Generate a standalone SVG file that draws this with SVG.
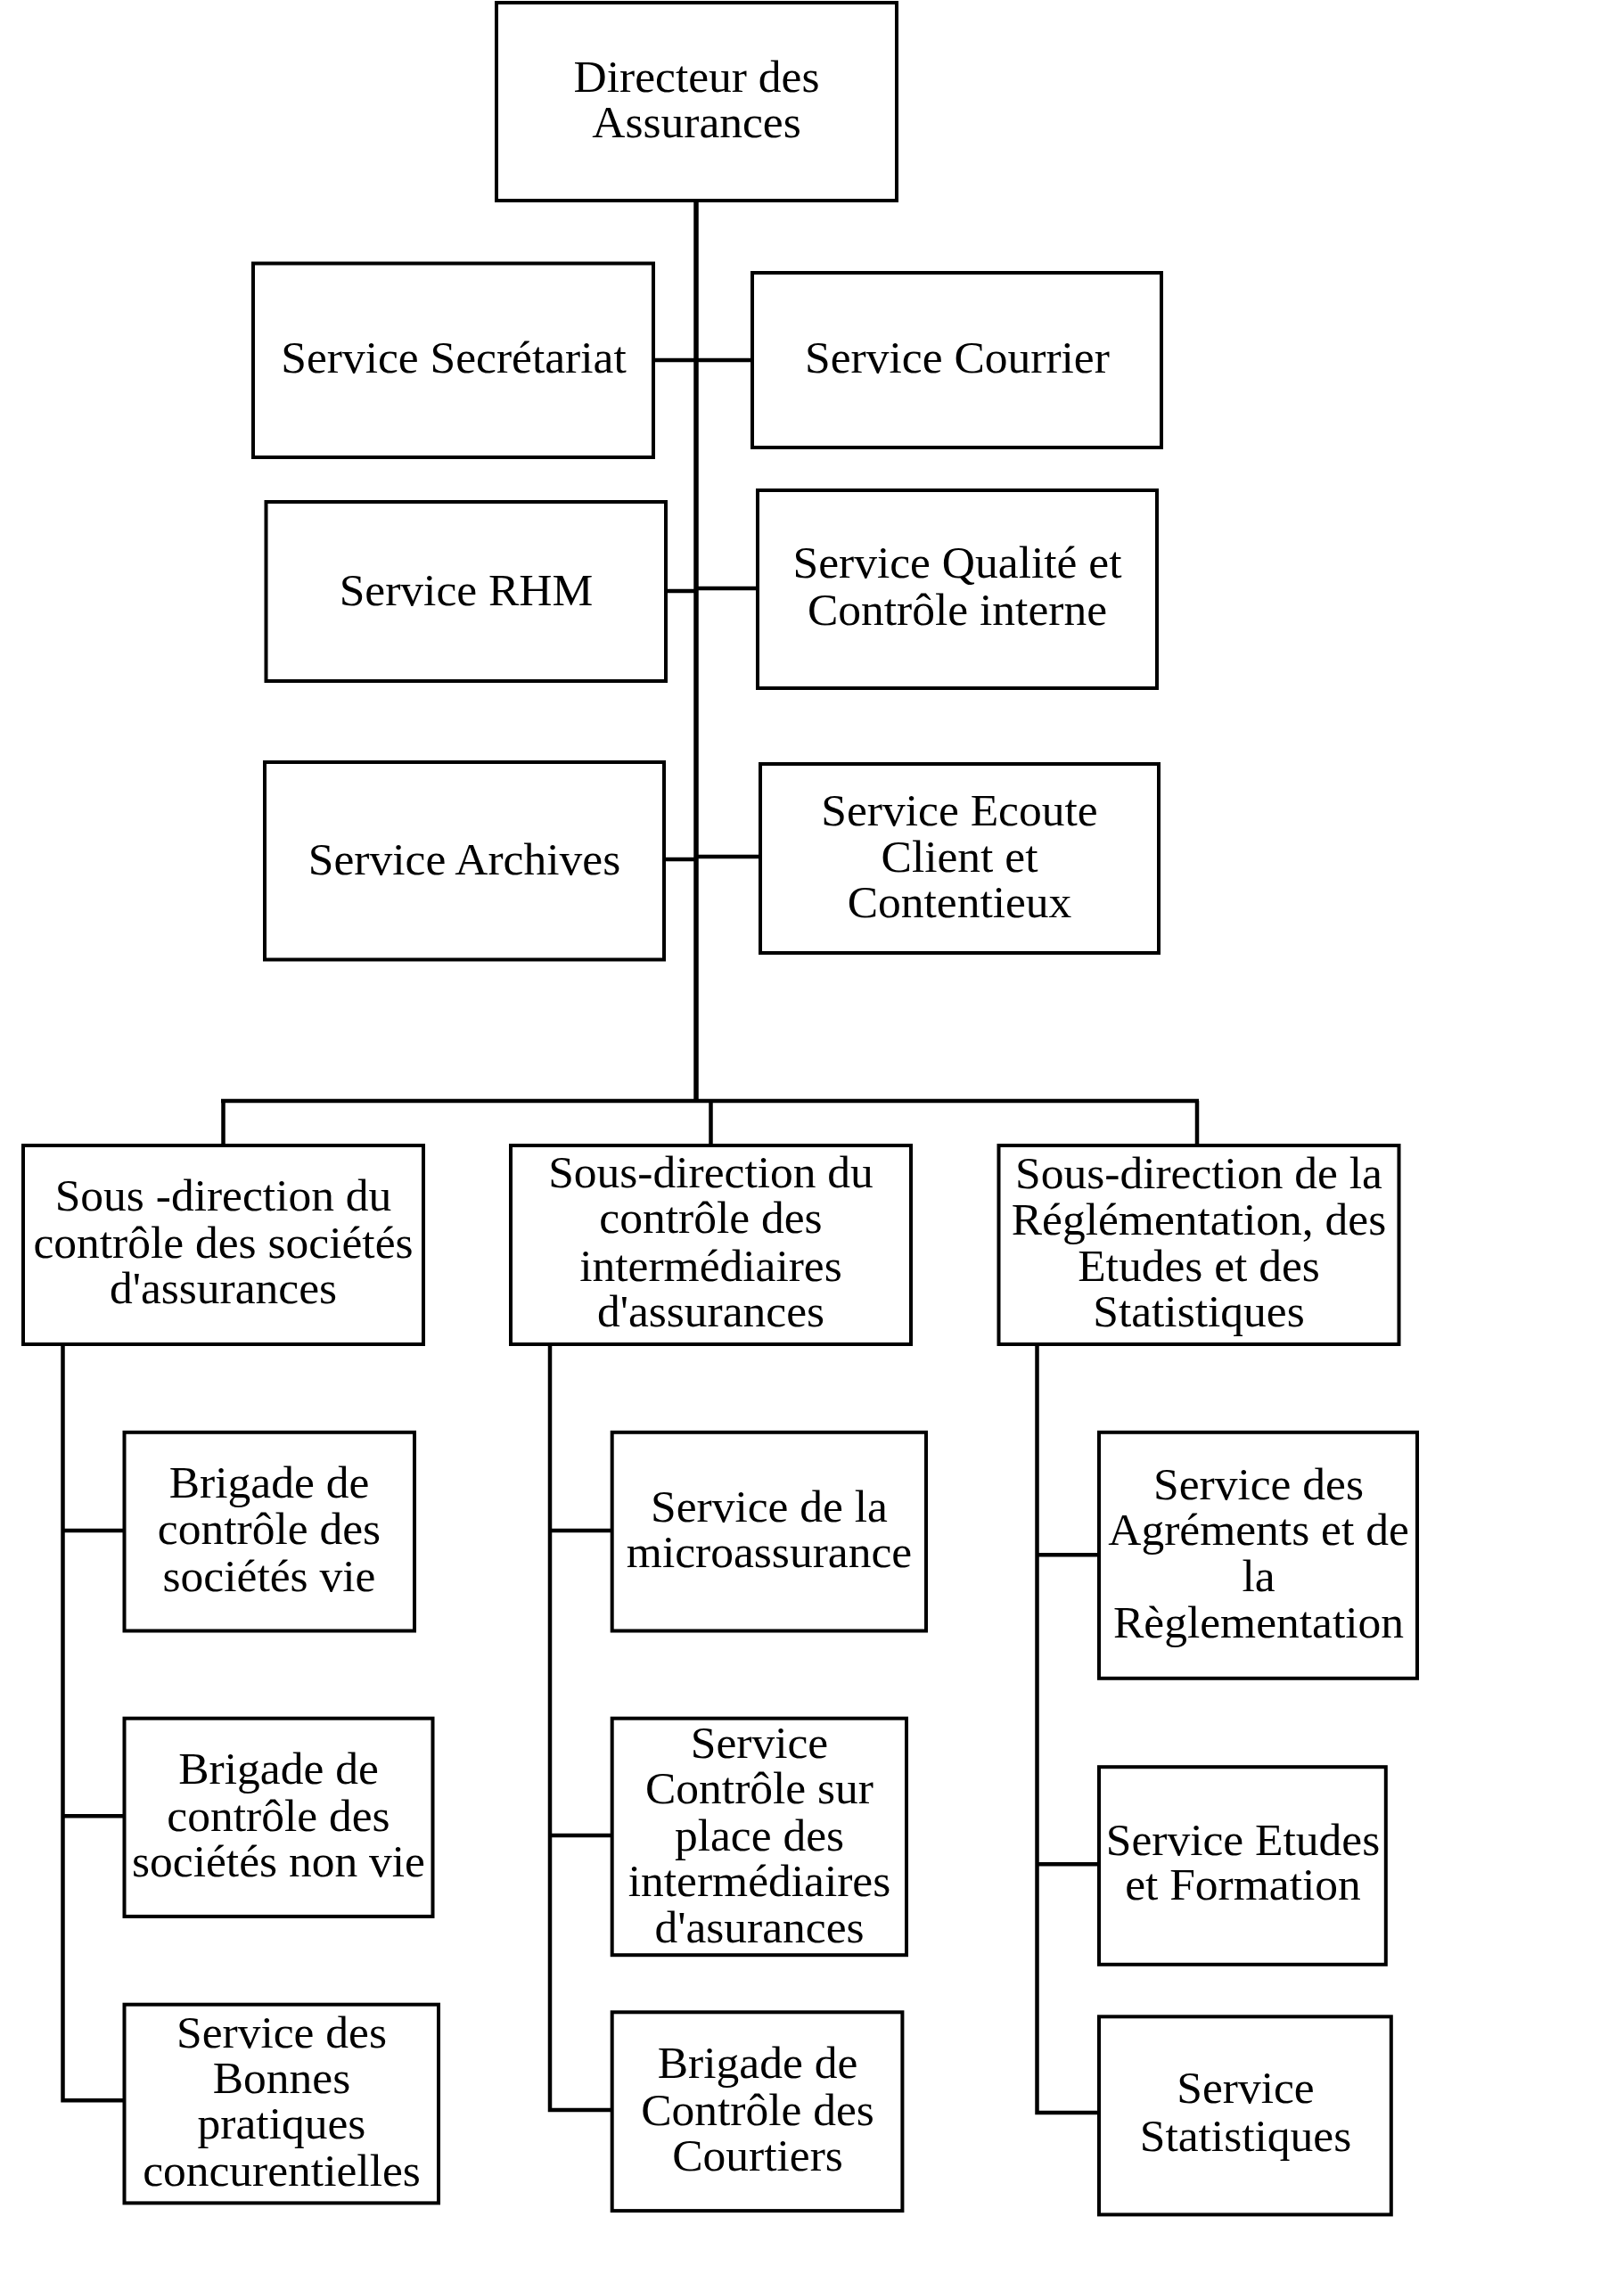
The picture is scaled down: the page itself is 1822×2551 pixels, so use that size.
<svg xmlns="http://www.w3.org/2000/svg" width="1822" height="2551" viewBox="0 0 1822 2551">
<style>
.box{fill:#fff;stroke:#000;stroke-width:4}
.ln{fill:none;stroke:#000;stroke-width:4.5}
.trunk{fill:none;stroke:#000;stroke-width:5.5}
text{font-family:"Liberation Serif","Times New Roman",serif;font-size:51.5px;fill:#000;text-anchor:middle}
</style>
<rect width="1822" height="2551" fill="#fff"/>
<g id="connectors">
<path class="trunk" d="M781 225V1237"/>
<path class="ln" d="M733 404H844M749 663H781M781 660H850M747 964H781M781 961H853"/>
<path class="ln" d="M248 1235H1345M250.5 1235V1285M797.5 1235V1285M1343 1235V1285"/>
<path class="ln" d="M70.5 1510V2356.3H139.5M70.5 1716.9H139.5M70.5 2037.2H139.5"/>
<path class="ln" d="M617 1510V2366.9H686.7M617 1716.9H686.7M617 2058.9H686.7"/>
<path class="ln" d="M1163.5 1510V2370H1233M1163.5 1744.2H1233M1163.5 2091.2H1233"/>
</g>
<g id="directeur"><rect class="box" x="557" y="3" width="449" height="222"/><text x="781.5" y="102.5">Directeur des</text><text x="781.5" y="153.6">Assurances</text></g>
<g id="secretariat"><rect class="box" x="284" y="295.5" width="449" height="217.5"/><text x="509" y="418">Service Secrétariat</text></g>
<g id="courrier"><rect class="box" x="844" y="306" width="459" height="196"/><text x="1074" y="418">Service Courrier</text></g>
<g id="rhm"><rect class="box" x="298.5" y="563" width="448.5" height="201"/><text x="523" y="678.6">Service RHM</text></g>
<g id="qualite"><rect class="box" x="850" y="550" width="448" height="222"/><text x="1074" y="648">Service Qualité et</text><text x="1074" y="700.7">Contrôle interne</text></g>
<g id="archives"><rect class="box" x="297" y="855" width="448" height="221.5"/><text x="521" y="981">Service Archives</text></g>
<g id="ecoute"><rect class="box" x="853" y="857" width="447" height="212"/><text x="1076.5" y="925.7">Service Ecoute</text><text x="1076.5" y="977.5">Client et</text><text x="1076.5" y="1029">Contentieux</text></g>
<g id="sd-societes"><rect class="box" x="26" y="1285" width="449" height="223"/><text x="250.5" y="1358">Sous -direction du</text><text x="250.5" y="1410.7">contrôle des sociétés</text><text x="250.5" y="1461.7">d'assurances</text></g>
<g id="sd-intermediaires"><rect class="box" x="573" y="1285" width="449" height="223"/><text x="797.5" y="1331.7">Sous-direction du</text><text x="797.5" y="1383">contrôle des</text><text x="797.5" y="1436.7">intermédiaires</text><text x="797.5" y="1488.3">d'assurances</text></g>
<g id="sd-reglementation"><rect class="box" x="1120.5" y="1285" width="449" height="223"/><text x="1345" y="1333">Sous-direction de la</text><text x="1345" y="1385">Réglémentation, des</text><text x="1345" y="1437">Etudes et des</text><text x="1345" y="1488.3">Statistiques</text></g>
<g id="brigade-vie"><rect class="box" x="139.5" y="1606.8" width="325.5" height="222.7"/><text x="302" y="1680.4">Brigade de</text><text x="302" y="1731.8">contrôle des</text><text x="302" y="1784.5">sociétés vie</text></g>
<g id="brigade-nonvie"><rect class="box" x="139.5" y="1927.7" width="346" height="222.2"/><text x="312.5" y="2001.3">Brigade de</text><text x="312.5" y="2054">contrôle des</text><text x="312.5" y="2105.4">sociétés non vie</text></g>
<g id="bonnes-pratiques"><rect class="box" x="139.5" y="2248.7" width="352.5" height="222.7"/><text x="316" y="2296.9">Service des</text><text x="316" y="2348.3">Bonnes</text><text x="316" y="2399.1">pratiques</text><text x="316" y="2452.4">concurentielles</text></g>
<g id="microassurance"><rect class="box" x="686.7" y="1606.8" width="352.3" height="222.7"/><text x="863" y="1707">Service de la</text><text x="863" y="1758.4">microassurance</text></g>
<g id="controle-sur-place"><rect class="box" x="686.7" y="1927.7" width="330.3" height="265.5"/><text x="852" y="1971.6">Service</text><text x="852" y="2023">Contrôle sur</text><text x="852" y="2075.7">place des</text><text x="852" y="2127.1">intermédiaires</text><text x="852" y="2179.1">d'asurances</text></g>
<g id="courtiers"><rect class="box" x="686.7" y="2257.3" width="325.7" height="222.8"/><text x="850" y="2330.9">Brigade de</text><text x="850" y="2383.6">Contrôle des</text><text x="850" y="2435">Courtiers</text></g>
<g id="agrements"><rect class="box" x="1233" y="1606.8" width="357" height="276"/><text x="1412" y="1682.2">Service des</text><text x="1412" y="1733">Agréments et de</text><text x="1412" y="1784.5">la</text><text x="1412" y="1837.1">Règlementation</text></g>
<g id="etudes"><rect class="box" x="1233" y="1982.2" width="321.8" height="221.6"/><text x="1394.5" y="2080.6">Service Etudes</text><text x="1394.5" y="2131.4">et Formation</text></g>
<g id="statistiques"><rect class="box" x="1233" y="2262.3" width="327.8" height="222.1"/><text x="1397.5" y="2359.4">Service</text><text x="1397.5" y="2413.3">Statistiques</text></g>
</svg>
